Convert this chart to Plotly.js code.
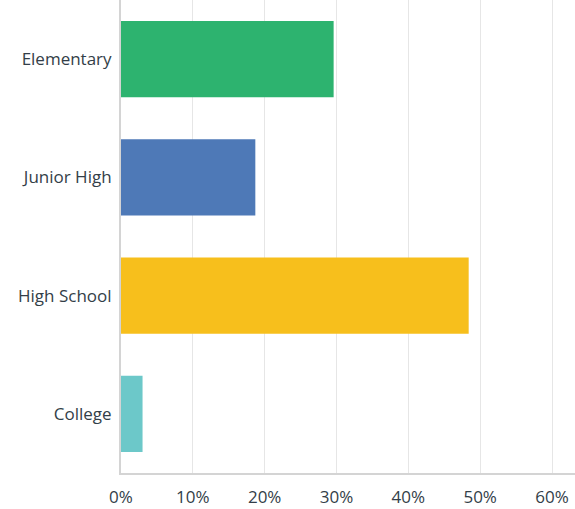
<!DOCTYPE html>
<html>
<head>
<meta charset="utf-8">
<script src="https://cdn.plot.ly/plotly-3.0.1.min.js"></script>
<style>html,body{margin:0;padding:0;background:#fff;}#chart{width:575px;height:509px;}</style>
</head>
<body>
<div id="chart"></div>
<script>
const categories = ["Elementary", "Junior High", "High School", "College"];
const percentages = [29.6, 18.7, 48.4, 3.0];
const barColors = ["#2db36f", "#4e79b7", "#f7bf1c", "#6cc8c9"];
const tickValues = [0, 10, 20, 30, 40, 50, 60];
const tickLabels = ["0%", "10%", "20%", "30%", "40%", "50%", "60%"];

const trace = {
  type: "bar",
  orientation: "h",
  y: categories,
  x: percentages,
  marker: {color: barColors, line: {width: 0}},
  hoverinfo: "none"
};

const layout = {
  width: 575,
  height: 509,
  margin: {l: 121, r: 0, t: 0, b: 36, pad: 0},
  paper_bgcolor: "#ffffff",
  plot_bgcolor: "#ffffff",
  showlegend: false,
  bargap: 0.357,
  font: {family: "Open Sans, sans-serif", color: "#333e48", size: 15},
  xaxis: {
    range: [0, 63.2],
    tickvals: tickValues,
    ticktext: tickLabels,
    showgrid: true,
    gridcolor: "#e6e6e6",
    gridwidth: 1,
    zeroline: false,
    showline: true,
    linecolor: "#d4d4d4",
    linewidth: 2,
    ticks: "outside",
    ticklen: 8,
    tickcolor: "rgba(0,0,0,0)",
    tickfont: {size: 17, color: "#333e48"},
    fixedrange: true
  },
  yaxis: {
    type: "category",
    range: [3.5, -0.5],
    showgrid: false,
    zeroline: false,
    showline: true,
    linecolor: "#d4d4d4",
    linewidth: 2,
    ticks: "outside",
    ticklen: 4,
    tickcolor: "rgba(0,0,0,0)",
    tickfont: {size: 17, color: "#333e48"},
    fixedrange: true
  }
};

Plotly.newPlot("chart", [trace], layout, {displayModeBar: false, staticPlot: true});
</script>
</body>
</html>
